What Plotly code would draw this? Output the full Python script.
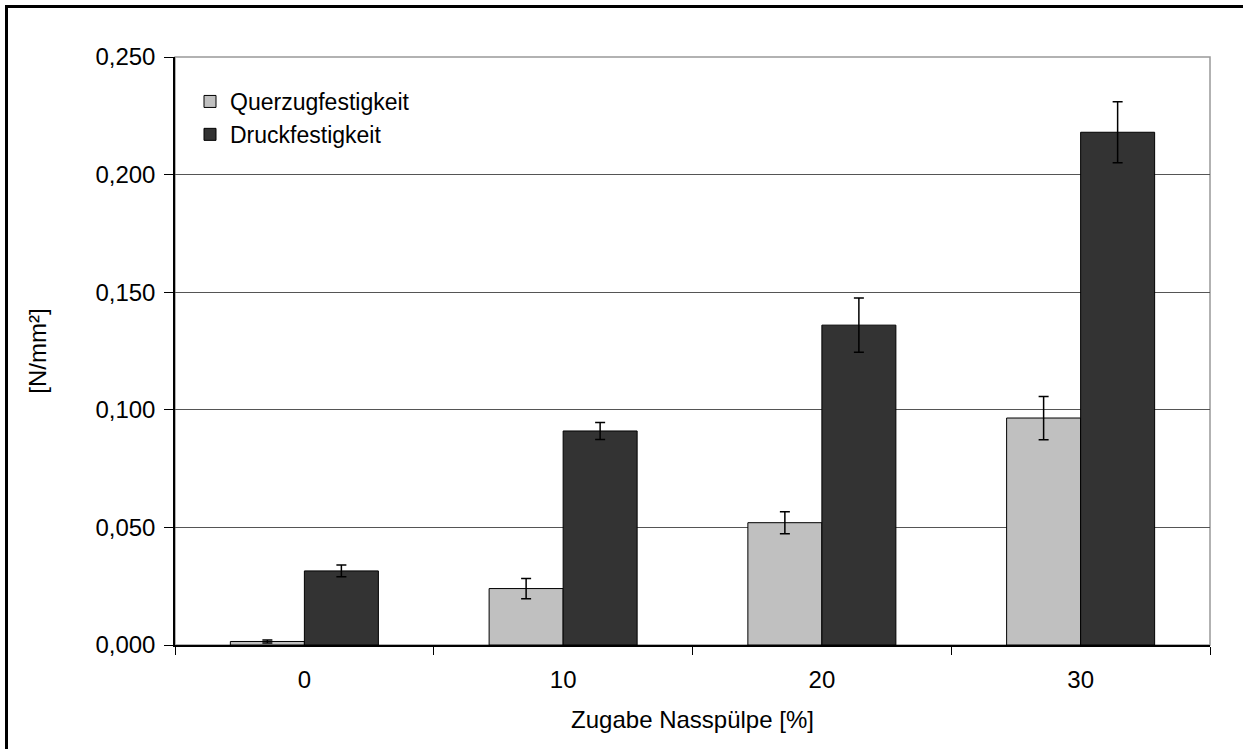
import plotly.graph_objects as go

categories = ["0", "10", "20", "30"]
querzug = [0.0015, 0.024, 0.052, 0.0965]
querzug_err = [0.0006, 0.0043, 0.0047, 0.0092]
druck = [0.0315, 0.091, 0.136, 0.218]
druck_err = [0.0025, 0.0036, 0.0115, 0.013]

FONT = "Liberation Sans, Arial, sans-serif"
W, H = 1243, 749
# target plot area in page pixels (body margin removed via post_script)
X0, X1, Y0, Y1 = 175, 1210, 57, 645
ML, MT = X0, Y0
MR, MB = W - X1, H - Y1
PW, PH = X1 - X0, Y1 - Y0

def px(x):
    return (x - X0) / PW

def py(y):
    return (Y1 - y) / PH

fig = go.Figure()
fig.add_trace(go.Bar(
    name="Querzugfestigkeit", x=categories, y=querzug,
    marker=dict(color="#c0c0c0", line=dict(color="#000000", width=1)),
    error_y=dict(type="data", array=querzug_err, color="#000000", thickness=1.5, width=5),
))
fig.add_trace(go.Bar(
    name="Druckfestigkeit", x=categories, y=druck,
    marker=dict(color="#333333", line=dict(color="#000000", width=1)),
    error_y=dict(type="data", array=druck_err, color="#000000", thickness=1.5, width=5),
))

fig.update_layout(
    width=W, height=H,
    margin=dict(l=ML, r=MR, t=MT, b=MB),
    paper_bgcolor="#ffffff", plot_bgcolor="#ffffff",
    barmode="group", bargap=0.428, bargroupgap=0,
    separators=",.",
    font=dict(family=FONT, size=24, color="#000000"),
    showlegend=True,
    legend=dict(x=px(190), y=py(80), xanchor="left", yanchor="top",
                bgcolor="rgba(255,255,255,0)", font=dict(size=23),
                tracegroupgap=0, itemwidth=30),
    xaxis=dict(
        type="category", showgrid=False, showline=True, linecolor="#000000", linewidth=1.5,
        ticks="outside", ticklen=8, tickcolor="#000000", tickson="boundaries",
        ticklabelstandoff=12,
        title=dict(text="Zugabe Nasspülpe [%]", standoff=20, font=dict(size=24)),
        automargin=False,
    ),
    yaxis=dict(
        range=[0, 0.25], tickvals=[0, 0.05, 0.1, 0.15, 0.2, 0.25], tickformat=".3f",
        showgrid=True, gridcolor="#555555", gridwidth=1,
        showline=True, linecolor="#000000", linewidth=1.5,
        ticks="outside", ticklen=9, tickcolor="#000000", ticklabelstandoff=4,
        title=dict(text="[N/mm²]", standoff=42, font=dict(size=24)),
        zeroline=False, automargin=False,
    ),
    shapes=[
        dict(type="rect", xref="paper", yref="paper", x0=0, x1=1, y0=0, y1=1,
             line=dict(color="#999999", width=1.5), layer="below"),
        dict(type="line", xref="paper", yref="paper", x0=px(6.5), x1=px(6.5), y0=py(5), y1=py(760),
             line=dict(color="#000000", width=3), layer="above"),
        dict(type="line", xref="paper", yref="paper", x0=px(5), x1=px(1260), y0=py(6.5), y1=py(6.5),
             line=dict(color="#000000", width=3), layer="above"),
    ],
)

fig.write_html(
    "out.html",
    config={"displayModeBar": False},
    post_script="document.body.style.margin='0px';document.body.style.overflow='hidden';",
)
